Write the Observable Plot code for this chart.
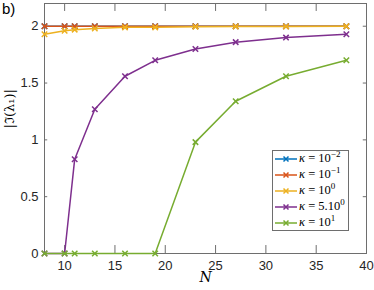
<!DOCTYPE html>
<html><head>
<meta charset="utf-8">
<script src="https://cdn.jsdelivr.net/npm/d3@7"></script>
<script src="https://cdn.jsdelivr.net/npm/@observablehq/plot@0.6"></script>
<style>
body{margin:0;background:#fff;}
#wrap{position:relative;width:374px;height:290px;font-family:"Liberation Sans",Arial,sans-serif;overflow:hidden;}
#tag{position:absolute;left:2px;top:0px;font-size:15px;color:#000;}
#legend{position:absolute;left:272px;top:150px;width:77px;height:81px;border:1px solid #6e6e6e;background:#fff;box-sizing:border-box;padding-top:0px;}
.row{display:flex;align-items:center;height:15.9px;font-family:"Liberation Serif","DejaVu Serif",serif;font-size:12.5px;color:#000;white-space:nowrap;}
.row svg{margin-left:2px;margin-right:2px;flex:none;}
.row i{font-style:italic;}
.row sup{font-size:9px;vertical-align:5px;line-height:0;}
</style>
</head><body>
<div id="wrap"><div id="tag">b)</div></div>
<script>
const N = [8, 10, 11, 13, 16, 19, 23, 27, 32, 38];
const kappaLabels = ["10<sup>−2</sup>", "10<sup>−1</sup>", "10<sup>0</sup>", "5.10<sup>0</sup>", "10<sup>1</sup>"];
const colors = ["#0072BD", "#D95319", "#EDB120", "#7E2F8E", "#77AC30"];
const s1 = [2.00, 2.00, 2.00, 2.00, 2.00, 2.00, 2.00, 2.00, 2.00, 2.00];
const s2 = [2.00, 2.00, 2.00, 2.00, 2.00, 2.00, 2.00, 2.00, 2.00, 2.00];
const s3 = [1.93, 1.96, 1.97, 1.98, 1.99, 1.99, 1.995, 1.997, 1.998, 1.999];
const s4 = [0, 0, 0.83, 1.27, 1.56, 1.70, 1.80, 1.86, 1.90, 1.93];
const s5 = [0, 0, 0, 0, 0, 0, 0.98, 1.34, 1.56, 1.70];
const series = [s1, s2, s3, s4, s5];
const xTicks = [10, 15, 20, 25, 30, 35, 40];
const yTicks = [0, 0.5, 1, 1.5, 2];

const data = series.flatMap((s, i) => s.map((v, j) => ({N: N[j], v, k: i})));

const axisColor = "#6e6e6e";
const marks = [
  Plot.frame({stroke: axisColor, strokeWidth: 1}),
  Plot.axisX({ticks: xTicks, tickSize: 0, tickPadding: 7, fontSize: 13, label: null, anchor: "bottom", color: "#262626", tickFormat: d => String(d)}),
  Plot.axisY({ticks: yTicks, tickSize: 0, tickPadding: 6, fontSize: 13, label: null, anchor: "left", color: "#262626", tickFormat: d => String(d)}),
  Plot.ruleX(xTicks, {x: d => d, y1: 0, y2: 0.07, stroke: axisColor}),
  Plot.ruleX(xTicks, {x: d => d, y1: 2.2, y2: 2.13, stroke: axisColor}),
  Plot.ruleY(yTicks, {y: d => d, x1: 8, x2: 8.32, stroke: axisColor}),
  Plot.ruleY(yTicks, {y: d => d, x1: 40, x2: 39.68, stroke: axisColor})
];
series.forEach((s, i) => {
  const d = data.filter(r => r.k === i);
  marks.push(Plot.line(d, {x: "N", y: "v", stroke: colors[i], strokeWidth: 1.5}));
  marks.push(Plot.dot(d, {x: "N", y: "v", symbol: "times", r: 2.6, stroke: colors[i], strokeWidth: 1.5}));
});
marks.push(Plot.text(["|ℑ(λ₁)|"], {frameAnchor: "left", dx: -35, rotate: -90, fontSize: 13, fontFamily: "DejaVu Serif, serif", fill: "#000"}));
marks.push(Plot.text(["N"], {frameAnchor: "bottom", dy: 28, fontSize: 14, fontStyle: "italic", fontFamily: "DejaVu Serif, serif", fill: "#000"}));

const chart = Plot.plot({
  width: 374, height: 290,
  marginLeft: 44, marginRight: 8, marginTop: 3, marginBottom: 37,
  x: {domain: [8, 40]},
  y: {domain: [0, 2.2]},
  style: {fontFamily: "Liberation Sans, Arial, sans-serif", background: "#fff", overflow: "visible"},
  marks
});
const wrap = document.getElementById("wrap");
wrap.insertBefore(chart, wrap.firstChild);

const lg = document.createElement("div");
lg.id = "legend";
kappaLabels.forEach((lab, i) => {
  const row = document.createElement("div");
  row.className = "row";
  row.innerHTML = `<svg width="22" height="8"><line x1="0" y1="4" x2="22" y2="4" stroke="${colors[i]}" stroke-width="1.5"/><path d="M8.5 1.5L13.5 6.5M13.5 1.5L8.5 6.5" stroke="${colors[i]}" stroke-width="1.5"/></svg><span><i>κ</i> = ${lab}</span>`;
  lg.appendChild(row);
});
wrap.appendChild(lg);
</script>
</body></html>
